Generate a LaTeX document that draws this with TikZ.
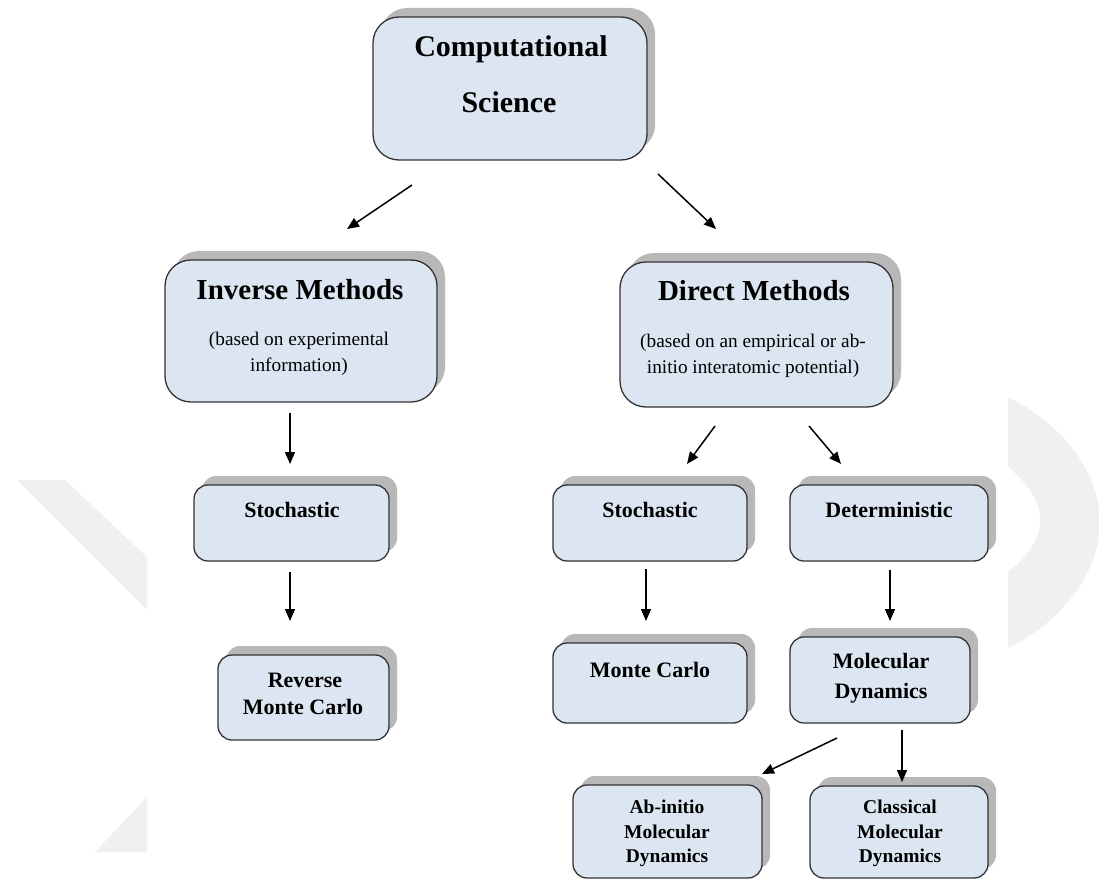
\documentclass[tikz,border=0pt]{standalone}
\usepackage{fontspec}
\setmainfont{Liberation Serif}
\usetikzlibrary{shadows,arrows.meta}
\definecolor{boxfill}{HTML}{DCE6F2}
\definecolor{wm}{HTML}{F0F0F0}
\begin{document}
\begin{tikzpicture}[x=1pt,y=-1pt,
  bx/.style={draw=black!80, line width=1.3pt, fill=boxfill, inner sep=0pt, outer sep=0pt,
    general shadow={fill=black!28, shadow xshift=8pt, shadow yshift=9pt}},
  bigr/.style={rounded corners=26pt},
  smr/.style={rounded corners=14pt},
  ttl/.style={font=\fontsize{30}{36}\selectfont\bfseries, anchor=base, inner sep=0pt},
  hd/.style={font=\fontsize{29}{34}\selectfont\bfseries, anchor=base, inner sep=0pt},
  sub/.style={font=\fontsize{19.3}{23}\selectfont, anchor=base, inner sep=0pt},
  lb/.style={font=\fontsize{22}{26}\selectfont\bfseries, anchor=base, inner sep=0pt},
  lbs/.style={font=\fontsize{19.5}{23}\selectfont\bfseries, anchor=base, inner sep=0pt},
  arr/.style={line width=1.5pt, -{Triangle[length=12pt,width=10pt]}}
]
\useasboundingbox (0,0) rectangle (1099,880);
% faint watermark
\fill[wm] (17,480) -- (65,480) -- (147,557) -- (147,610) -- cycle;
\fill[wm] (95,852) -- (147,797) -- (147,852) -- cycle;
\fill[wm] (1008,397) .. controls (1065,425) and (1100,475) .. (1100,522)
  .. controls (1100,570) and (1065,620) .. (1008,648) -- (1008,572)
  .. controls (1028,556) and (1040,540) .. (1040,520)
  .. controls (1040,500) and (1028,484) .. (1008,467) -- cycle;

% boxes
\node[bx,bigr,minimum width=274pt,minimum height=143pt] (cs) at (510,88.5) {};
\node[bx,bigr,minimum width=272pt,minimum height=142pt] (inv) at (301,331) {};
\node[bx,bigr,minimum width=273pt,minimum height=145pt] (dir) at (756.5,334.5) {};
\node[bx,smr,minimum width=195pt,minimum height=76pt] (st1) at (291.5,523) {};
\node[bx,smr,minimum width=171pt,minimum height=85pt] (rmc) at (303.5,697.5) {};
\node[bx,smr,minimum width=194pt,minimum height=76pt] (st2) at (650,523) {};
\node[bx,smr,minimum width=198pt,minimum height=76pt] (det) at (889,523) {};
\node[bx,smr,minimum width=194pt,minimum height=80pt] (mc) at (650,683) {};
\node[bx,smr,minimum width=180pt,minimum height=86pt] (md) at (880,680) {};
\node[bx,smr,minimum width=189pt,minimum height=93pt] (ab) at (667.5,831.5) {};
\node[bx,smr,minimum width=178pt,minimum height=92pt] (cl) at (899,832) {};

% texts
\node[ttl] (cs1) at (511,57) {Computational};
\node[ttl] (cs2) at (509,113) {Science};
\node[hd] (inv1) at (300,299) {Inverse Methods};
\node[sub] (inv2) at (299,345) {(based on experimental};
\node[sub] (inv3) at (299,371) {information)};
\node[hd] (dir1) at (754,300) {Direct Methods};
\node[sub] (dir2) at (753,347) {(based on an empirical or ab-};
\node[sub] (dir3) at (753,373) {initio interatomic potential)};
\node[lb] (st1t) at (292,517) {Stochastic};
\node[lb] (st2t) at (650,517) {Stochastic};
\node[lb] (dett) at (889,517) {Deterministic};
\node[lb] (rmc1) at (305,687) {Reverse};
\node[lb] (rmc2) at (303,714) {Monte Carlo};
\node[lb] (mct) at (650,677) {Monte Carlo};
\node[lb] (md1) at (881,668) {Molecular};
\node[lb] (md2) at (881,698) {Dynamics};
\node[lbs] (ab1) at (667,813) {Ab-initio};
\node[lbs] (ab2) at (667,838) {Molecular};
\node[lbs] (ab3) at (667,862) {Dynamics};
\node[lbs] (cl1) at (900,813) {Classical};
\node[lbs] (cl2) at (900,838) {Molecular};
\node[lbs] (cl3) at (900,862) {Dynamics};

% arrow end points
\coordinate (a1s) at (412,185); \coordinate (a1e) at (347,229);
\coordinate (a2s) at (658,174); \coordinate (a2e) at (716,229);
\coordinate (a3s) at (290,413); \coordinate (a3e) at (290,464);
\coordinate (a4s) at (290,572); \coordinate (a4e) at (290,621);
\coordinate (a5s) at (715,426); \coordinate (a5e) at (687,464);
\coordinate (a6s) at (809,426); \coordinate (a6e) at (841,464);
\coordinate (a7s) at (646,569); \coordinate (a7e) at (646,621);
\coordinate (a8s) at (890,570); \coordinate (a8e) at (890,621);
\coordinate (a9s) at (837,738); \coordinate (a9e) at (762,774);
\coordinate (a10s) at (902,730); \coordinate (a10e) at (902,782);

\draw[arr] (a1s) -- (a1e);
\draw[arr] (a2s) -- (a2e);
\draw[arr] (a3s) -- (a3e);
\draw[arr] (a4s) -- (a4e);
\draw[arr] (a5s) -- (a5e);
\draw[arr] (a6s) -- (a6e);
\draw[arr] (a7s) -- (a7e);
\draw[arr] (a8s) -- (a8e);
\draw[arr] (a9s) -- (a9e);
\draw[arr] (a10s) -- (a10e);
\end{tikzpicture}
\end{document}
